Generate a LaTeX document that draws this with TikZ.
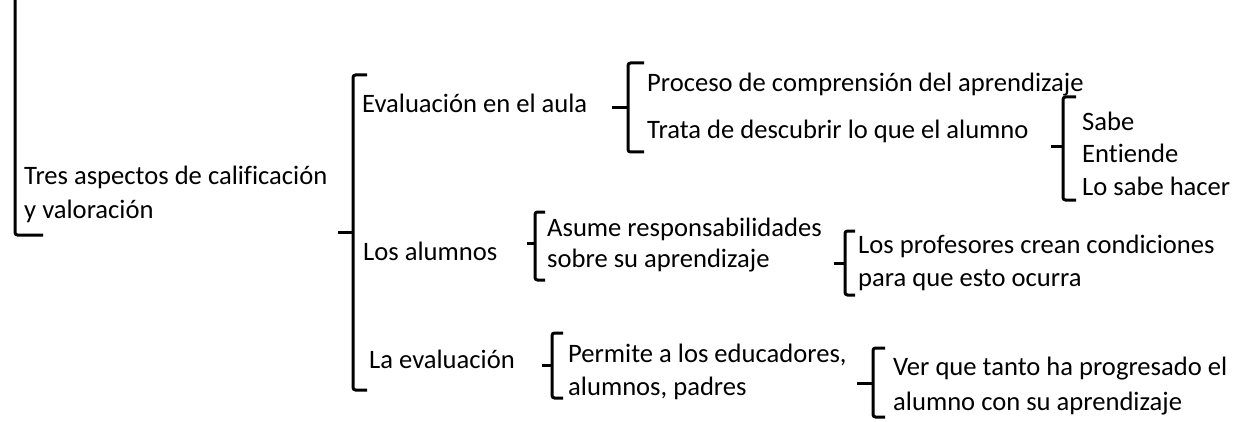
\documentclass[tikz,border=0pt]{standalone}
\usepackage{fontspec}
\setmainfont{Carlito}[Ligatures=NoCommon]
\newcommand\bracedraw[6]{% x, top, bottom, middle, tick x, hook
  \draw[bracestyle] (#1+#6,-#2) -- (#1,-#2) -- (#1,-#3) -- (#1+#6,-#3);
  \draw[tickstyle] (#1,-#4) -- (#5,-#4);}
\begin{document}
\begin{tikzpicture}[x=1pt,y=1pt,
  bracestyle/.style={line width=3pt, rounded corners=2.5pt, line cap=butt},
  tickstyle/.style={line width=3pt, line cap=butt},
  txt/.style={anchor=base west, inner sep=0pt, font=\fontsize{26.6}{31}\selectfont}]
\useasboundingbox (0,0) rectangle (1257,-422);
% root bracket
\draw[bracestyle] (15,10) -- (15,-235) -- (43,-235);
\node[txt] (root1) at (24,-185) {Tres aspectos de calificación};
\node[txt] (root2) at (24,-218) {y valoración};
% level 2
\bracedraw{353}{75}{390}{232}{338}{14}
\node[txt] (eval) at (362,-113) {Evaluación en el aula};
\node[txt] (alum) at (363,-260) {Los alumnos};
\node[txt] (laev) at (369,-368) {La evaluación};
% evaluación en el aula
\bracedraw{628}{63}{152}{108}{612}{16}
\node[txt] (proc) at (647,-92) {Proceso de comprensión del aprendizaje};
\node[txt] (trata) at (647,-139) {Trata de descubrir lo que el alumno};
\bracedraw{1063}{97}{200}{147}{1051}{13}
\node[txt] (sabe) at (1082,-131) {Sabe};
\node[txt] (entiende) at (1082,-163) {Entiende};
\node[txt] (losabe) at (1082,-195) {Lo sabe hacer};
% los alumnos
\bracedraw{535}{212}{280}{243}{527}{10}
\node[txt] (asume) at (547,-236) {Asume responsabilidades};
\node[txt] (sobre) at (547,-267) {sobre su aprendizaje};
\bracedraw{845}{231}{295}{263}{834}{10}
\node[txt] (prof) at (858,-253) {Los profesores crean condiciones};
\node[txt] (para) at (858,-286) {para que esto ocurra};
% la evaluación
\bracedraw{552}{333}{398}{365}{542}{11}
\node[txt] (permite) at (568,-362) {Permite a los educadores,};
\node[txt] (alumpad) at (568,-395) {alumnos, padres};
\bracedraw{873}{348}{417}{383}{857}{12}
\node[txt] (ver) at (893,-375) {Ver que tanto ha progresado el};
\node[txt] (alumno) at (893,-410) {alumno con su aprendizaje};
\end{tikzpicture}
\end{document}
